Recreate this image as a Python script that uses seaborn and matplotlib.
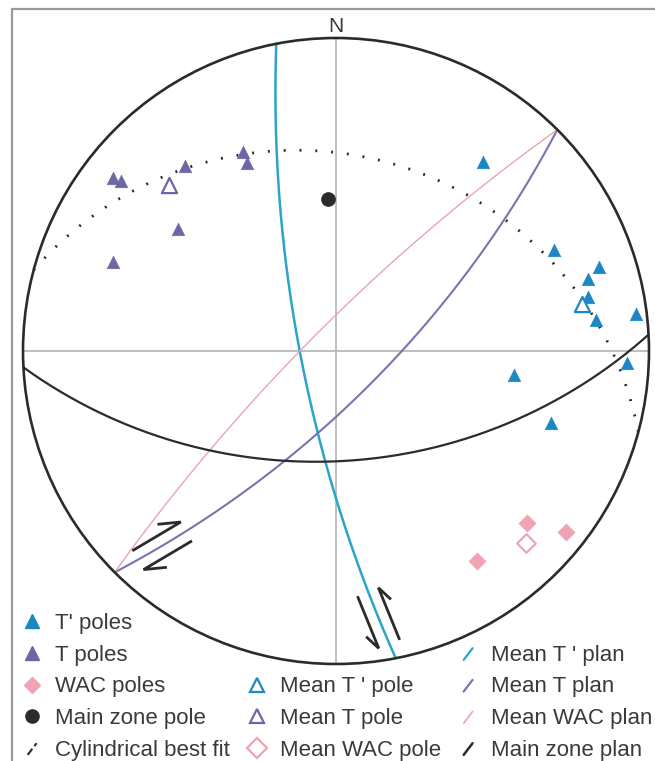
import numpy as np
import matplotlib
matplotlib.use("Agg")
import matplotlib.pyplot as plt
import seaborn as sns
from matplotlib.lines import Line2D
from matplotlib.patches import Circle, Rectangle
from matplotlib.legend_handler import HandlerBase

# ---------------------------------------------------------
# Data (stereographic projection, unit primitive circle, x = East, y = North)
# ---------------------------------------------------------
tp_x = [0.470, 0.696, 0.840, 0.805, 0.805, 0.831, 0.958, 0.930, 0.569, 0.687]
tp_y = [0.604, 0.323, 0.268, 0.230, 0.173, 0.099, 0.118, -0.038, -0.077, -0.230]

t_x = [-0.712, -0.687, -0.482, -0.297, -0.284, -0.505, -0.712]
t_y = [0.553, 0.543, 0.591, 0.636, 0.601, 0.390, 0.284]

wac_x = [0.610, 0.735, 0.450]
wac_y = [-0.550, -0.578, -0.671]

mean_tp = [0.786, 0.150]
mean_t = [-0.534, 0.530]
mean_wac = [0.607, -0.613]
zone_pole = [-0.026, 0.486]

# planes: strike / dip (right-hand rule)
plane_names = ["Mean T ' plan", "Mean T plan", "Mean WAC plan", "Main zone plan", "Cylindrical best fit"]
plane_strike = [169, 45, 225, 87, 285]
plane_dip = [77, 72.7, 80.6, 51.2, 26]

BLUE = "#1d86c5"
PURPLE = "#6e67a6"
PINK = "#f0a3b2"
CYAN = "#2aa5c9"
PLINE = "#7b73b0"
PKLINE = "#e6a6b2"
DARK = "#2b2b2b"
TXT = "#3a3a3a"


def great_circle(strike, dip, n=400):
    s = np.radians(strike)
    d = np.radians(dip)
    t = np.linspace(0, np.pi, n)
    sv = np.array([np.sin(s), np.cos(s), 0.0])
    dd = s + np.pi / 2
    dv = np.array([np.sin(dd) * np.cos(d), np.cos(dd) * np.cos(d), np.sin(d)])
    v = np.outer(np.cos(t), sv) + np.outer(np.sin(t), dv)
    plunge = np.arcsin(np.clip(v[:, 2], -1, 1))
    trend = np.arctan2(v[:, 0], v[:, 1])
    r = np.tan((np.pi / 2 - plunge) / 2)
    return r * np.sin(trend), r * np.cos(trend)


def shear_arrows(ax, gx, gy, dist, length, off, side, barb, ang=25):
    seg = np.hypot(np.diff(gx), np.diff(gy))
    s = np.concatenate([[0], np.cumsum(seg)])
    i = np.searchsorted(s, dist)
    p = np.array([gx[i], gy[i]])
    u = np.array([gx[i + 1] - gx[i - 1], gy[i + 1] - gy[i - 1]])
    u /= np.linalg.norm(u)
    nrm = side * np.array([-u[1], u[0]])
    a = np.radians(ang)
    for sgn in (1, -1):
        c = p + sgn * nrm * off
        tail = c - sgn * u * length / 2
        tip = c + sgn * u * length / 2
        bdir = -sgn * u * np.cos(a) + sgn * nrm * np.sin(a)
        bend = tip + bdir * barb
        ax.plot([tail[0], tip[0], bend[0]], [tail[1], tip[1], bend[1]],
                color=DARK, lw=2.0, solid_joinstyle="miter", solid_capstyle="butt", zorder=4)


class SlashHandler(HandlerBase):
    def create_artists(self, legend, orig, xdescent, ydescent, width, height, fontsize, trans):
        x0 = -xdescent + width * 0.3
        x1 = -xdescent + width * 0.7
        y0 = -ydescent + height * 0.05
        y1 = -ydescent + height * 0.8
        line = Line2D([x0, x1], [y0, y1], color=orig.get_color(), lw=orig.get_linewidth(),
                      linestyle=orig.get_linestyle(), transform=trans)
        return [line]


# ---------------------------------------------------------
# Figure
# ---------------------------------------------------------
sns.set_theme(style="white")
plt.rcParams["font.family"] = ["Liberation Sans", "DejaVu Sans"]

fig = plt.figure(figsize=(6.55, 7.61), dpi=100)
ax = fig.add_axes([0, 0, 1, 1])
ax.set_xlim(-336 / 313, 319 / 313)
ax.set_ylim(-410 / 313, 351 / 313)
ax.axis("off")

# frame
fig.add_artist(Rectangle((11.5 / 655, -0.05), 1.2, 1.05 - 9.5 / 761, transform=fig.transFigure,
                         fill=False, edgecolor="#9a9a9a", lw=1.6))

# primitive circle and cross
ax.add_patch(Circle((0, 0), 1.0, fill=False, edgecolor=DARK, lw=1.9, zorder=3))
ax.hlines(0, -1, 1, color="#bababa", lw=1.3, zorder=1)
ax.vlines(0, -1, 1, color="#bababa", lw=1.3, zorder=1)
ax.text(0, 1.038, "N", ha="center", va="center", fontsize=15, color=TXT)

# great circles
plane_style = {
    "Mean T ' plan": dict(color=CYAN, lw=1.8),
    "Mean T plan": dict(color=PLINE, lw=1.5),
    "Mean WAC plan": dict(color=PKLINE, lw=1.0),
    "Main zone plan": dict(color=DARK, lw=1.6),
    "Cylindrical best fit": dict(color=DARK, lw=2.0, linestyle=(0, (0.7, 5.0))),
}
curves = {}
for name, stk, dp in zip(plane_names, plane_strike, plane_dip):
    gx, gy = great_circle(stk, dp)
    curves[name] = (gx, gy)
    sns.lineplot(x=gx, y=gy, sort=False, estimator=None, ax=ax, zorder=2, **plane_style[name])

# shear sense arrows
gx, gy = curves["Mean T plan"]
shear_arrows(ax, gx[::-1], gy[::-1], dist=0.173, length=0.18, off=0.035, side=1, barb=0.075)
gx, gy = curves["Mean T ' plan"]
shear_arrows(ax, gx, gy, dist=0.133, length=0.18, off=0.036, side=-1, barb=0.055)

# poles
sns.scatterplot(x=tp_x, y=tp_y, marker="^", s=80, color=BLUE, edgecolor=BLUE, linewidth=0.5, ax=ax, zorder=5)
sns.scatterplot(x=t_x, y=t_y, marker="^", s=80, color=PURPLE, edgecolor=PURPLE, linewidth=0.5, ax=ax, zorder=5)
sns.scatterplot(x=wac_x, y=wac_y, marker="D", s=75, color=PINK, edgecolor=PINK, linewidth=0.5, ax=ax, zorder=5)
sns.scatterplot(x=[zone_pole[0]], y=[zone_pole[1]], marker="o", s=95, color=DARK, edgecolor=DARK, ax=ax, zorder=5)
sns.scatterplot(x=[mean_tp[0]], y=[mean_tp[1]], marker="^", s=120, color="white", edgecolor=BLUE, linewidth=1.6, ax=ax, zorder=6)
sns.scatterplot(x=[mean_t[0]], y=[mean_t[1]], marker="^", s=120, color="white", edgecolor=PURPLE, linewidth=1.6, ax=ax, zorder=6)
sns.scatterplot(x=[mean_wac[0]], y=[mean_wac[1]], marker="D", s=90, color="white", edgecolor=PINK, linewidth=1.6, ax=ax, zorder=6)

# ---------------------------------------------------------
# Legend
# ---------------------------------------------------------
blank = Line2D([], [], ls="none")
h_tp = Line2D([], [], ls="none", marker="^", ms=9.5, color=BLUE)
h_t = Line2D([], [], ls="none", marker="^", ms=9.5, color=PURPLE)
h_wac = Line2D([], [], ls="none", marker="D", ms=8.5, color=PINK)
h_zp = Line2D([], [], ls="none", marker="o", ms=9.5, color=DARK)
h_cyl = Line2D([], [], color=DARK, lw=1.5, linestyle=(0, (0.6, 2.8)))
h_mtp = Line2D([], [], ls="none", marker="^", ms=10.5, mfc="white", mec=BLUE, mew=1.6)
h_mt = Line2D([], [], ls="none", marker="^", ms=10.5, mfc="white", mec=PURPLE, mew=1.6)
h_mwac = Line2D([], [], ls="none", marker="D", ms=10, mfc="white", mec=PINK, mew=1.6)
h_ptp = Line2D([], [], color=CYAN, lw=1.6)
h_pt = Line2D([], [], color=PLINE, lw=1.6)
h_pwac = Line2D([], [], color=PKLINE, lw=1.2)
h_pz = Line2D([], [], color=DARK, lw=1.8)

handles = [h_tp, h_t, h_wac, h_zp, h_cyl,
           blank, blank, h_mtp, h_mt, h_mwac,
           blank, h_ptp, h_pt, h_pwac, h_pz]
labels = ["T' poles", "T poles", "WAC poles", "Main zone pole", "Cylindrical best fit",
          "", "", "Mean T ' pole", "Mean T pole", "Mean WAC pole",
          "", "Mean T ' plan", "Mean T plan", "Mean WAC plan", "Main zone plan"]
hmap = {h: SlashHandler() for h in [h_cyl, h_ptp, h_pt, h_pwac, h_pz]}

ax.legend(handles, labels, handler_map=hmap, ncol=3, frameon=False, fontsize=16,
          labelcolor=TXT, loc="upper left", bbox_to_anchor=(21 / 655, 1 - 613 / 761),
          bbox_transform=fig.transFigure, borderpad=0, borderaxespad=0,
          handlelength=1.0, handletextpad=0.55, columnspacing=0.7, labelspacing=0.48)

fig.savefig("out.png", dpi=100)
